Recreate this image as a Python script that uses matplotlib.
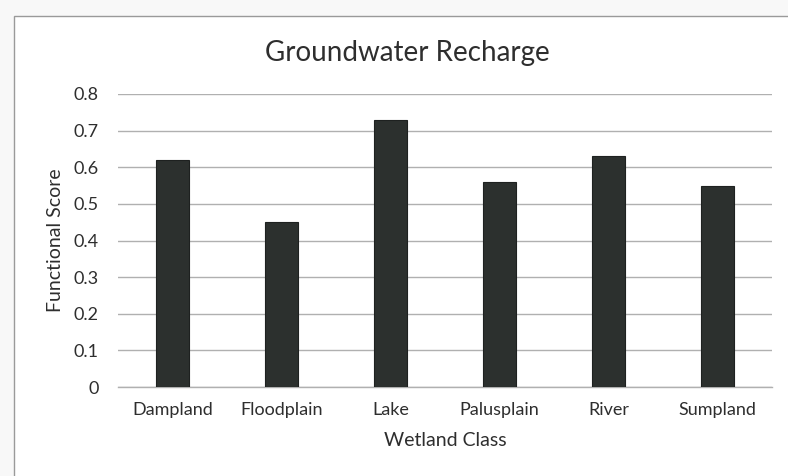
import matplotlib
matplotlib.use("Agg")
import matplotlib.pyplot as plt
from matplotlib.patches import Rectangle

categories = ["Dampland", "Floodplain", "Lake", "Palusplain", "River", "Sumpland"]
scores = [0.62, 0.45, 0.73, 0.56, 0.63, 0.55]
yticks = [0, 0.1, 0.2, 0.3, 0.4, 0.5, 0.6, 0.7, 0.8]
ytick_labels = ["0", "0.1", "0.2", "0.3", "0.4", "0.5", "0.6", "0.7", "0.8"]

plt.rcParams["font.family"] = ["Lato", "DejaVu Sans"]
text_col = "#2e2e2e"

fig = plt.figure(figsize=(7.88, 4.76), dpi=100)
fig.patch.set_facecolor("#f8f8f8")

# chart frame
frame = Rectangle((14 / 788, -0.02), 1.0, 1 - 16 / 476 + 0.02,
                  transform=fig.transFigure, facecolor="white",
                  edgecolor="#9a9a9a", linewidth=1.0)
frame.set_zorder(-5)
fig.add_artist(frame)

ax = fig.add_axes([118 / 788, 1 - 387 / 476, (772 - 118) / 788, (387 - 94) / 476])
ax.set_zorder(2)
ax.set_facecolor("none")

x = range(len(categories))
ax.bar(x, scores, width=0.30, color="#2c302e", edgecolor="#1e2120",
       linewidth=0.8, zorder=3)

ax.set_xlim(-0.5, len(categories) - 0.5)
ax.set_ylim(0, 0.8)
ax.set_yticks(yticks)
ax.set_yticklabels(ytick_labels)
ax.set_xticks(list(x))
ax.set_xticklabels(categories)

ax.grid(axis="y", color="#b0b0b0", linewidth=1.0, zorder=0)
ax.grid(axis="x", visible=False)
for side in ("top", "right", "left"):
    ax.spines[side].set_visible(False)
ax.spines["bottom"].set_color("#b0b0b0")
ax.spines["bottom"].set_linewidth(1.0)

ax.tick_params(axis="both", length=0, colors=text_col, labelsize=13)
ax.tick_params(axis="y", pad=14)
ax.tick_params(axis="x", pad=11)

fig.text(407 / 788, 1 - 53 / 476, "Groundwater Recharge", fontsize=20,
         color=text_col, ha="center", va="center")
ax.set_xlabel("Wetland Class", fontsize=14, color=text_col, labelpad=10)
ax.set_ylabel("Functional Score", fontsize=14, color=text_col, labelpad=7)

fig.savefig("out.png", dpi=100, facecolor=fig.get_facecolor())
